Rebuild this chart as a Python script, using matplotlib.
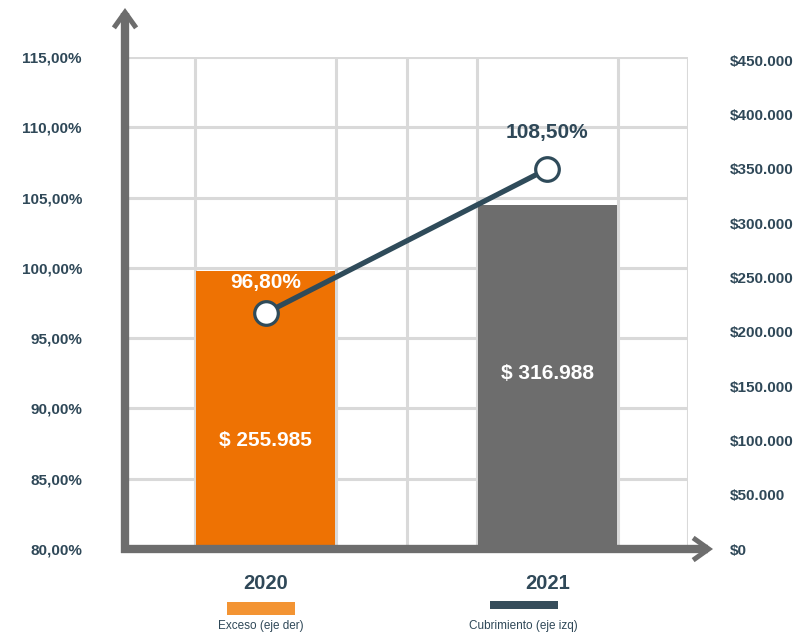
import matplotlib
matplotlib.use("Agg")
import matplotlib.pyplot as plt
from matplotlib.patches import Rectangle, FancyArrowPatch
from matplotlib.lines import Line2D
import numpy as np

plt.rcParams['font.family'] = ['Liberation Sans', 'DejaVu Sans']

# ---- data ----
years = ["2020", "2021"]
exceso = [255985, 316988]            # bars, right axis ($)
cubrimiento = [96.80, 108.50]        # line, left axis (%)
left_ticks = [80, 85, 90, 95, 100, 105, 110, 115]
right_ticks = [0, 50000, 100000, 150000, 200000, 250000, 300000, 350000, 400000, 450000]
legend_labels = ["Exceso (eje der)", "Cubrimiento (eje izq)"]

# ---- style ----
W, H = 807, 633
TXT = "#2f4858"
LINE = "#2f4b5a"
BAR_COLORS = ["#ee7203", "#6d6d6d"]
LEG_COLORS = ["#f39433", "#364d5b"]
AXIS = "#6d6d6d"
GRID = "#d9d9d9"

fig = plt.figure(figsize=(W / 100, H / 100), dpi=100)
L, R, B, T = 125, 688, 549, 57
ax = fig.add_axes([L / W, 1 - B / H, (R - L) / W, (B - T) / H])

def fx(px):
    return px / W

def fy(py):
    return 1 - py / H

# left axis (percent)
ax.set_xlim(0, 8)
ax.set_ylim(80, 115)
ax.set_yticks(left_ticks)
ax.set_yticklabels([f"{v:.2f}%".replace(".", ",") for v in left_ticks],
                   fontsize=11, fontweight="bold", color=TXT)
ax.tick_params(axis="y", length=0, pad=31)
ax.set_xticks([2, 6])
ax.set_xticklabels(years, fontsize=14.5, fontweight="bold", color=TXT)
ax.tick_params(axis="x", length=0, pad=18)
ax.set_xticks(np.arange(0, 9), minor=True)
ax.tick_params(axis="x", which="minor", length=0)
ax.grid(False)
ax.yaxis.grid(True, color=GRID, lw=2.2)
ax.xaxis.grid(True, which="minor", color=GRID, lw=2.2)
for s in ax.spines.values():
    s.set_visible(False)

# right axis (money) with bars
ax2 = ax.twinx()
ax2.set_ylim(0, 452800)
ax2.set_yticks(right_ticks)
ax2.set_yticklabels(["$0"] + [f"${v:,.0f}".replace(",", ".") for v in right_ticks[1:]],
                    fontsize=11, fontweight="bold", color=TXT)
ax2.tick_params(axis="y", length=0, pad=30)
for s in ax2.spines.values():
    s.set_visible(False)
xpos = [2, 6]
ax2.bar(xpos, exceso, width=1.98, color=BAR_COLORS, zorder=2)
label_frac = [0.39, 0.51]
for x, v, f in zip(xpos, exceso, label_frac):
    ax2.text(x, v * f, f"$ {v:,.0f}".replace(",", "."), ha="center", va="center",
             color="white", fontsize=15, fontweight="bold")

# line axis (hidden)
ax3 = ax.twinx()
ax3.set_ylim(77.63, 117.6)
ax3.axis("off")
ax3.plot(xpos, cubrimiento, color=LINE, lw=3.8, marker="o", markersize=17,
         markerfacecolor="white", markeredgecolor=LINE, markeredgewidth=2.3, zorder=3)
pt_colors = ["white", TXT]
pt_off = [22, 26]
for x, v, c, o in zip(xpos, cubrimiento, pt_colors, pt_off):
    ax3.annotate(f"{v:.2f}%".replace(".", ","), (x, v), xytext=(0, o),
                 textcoords="offset points", ha="center", va="center",
                 color=c, fontsize=15, fontweight="bold")

# axis arrows: thick shaft + open chevron head
def axis_arrow(p0, p1, shaft_end):
    fig.add_artist(Line2D([fx(p0[0]), fx(shaft_end[0])], [fy(p0[1]), fy(shaft_end[1])],
                          transform=fig.transFigure, color=AXIS, lw=6,
                          solid_capstyle="butt"))
    a = FancyArrowPatch((fx(p0[0]), fy(p0[1])), (fx(p1[0]), fy(p1[1])),
                        transform=fig.transFigure,
                        arrowstyle="->,head_length=0.7,head_width=0.5",
                        mutation_scale=16, color=AXIS, lw=3.6,
                        shrinkA=0, shrinkB=0, capstyle="butt", joinstyle="miter")
    fig.add_artist(a)

axis_arrow((125, 553), (125, 8), (125, 13))
axis_arrow((121, 549), (713, 549), (708, 549))

# legend beneath categories
leg_boxes = [(227, 602, 68, 13), (490, 601, 68, 8)]
leg_cx = [261, 523]
for (x0, y0, w, h), c, lab, cx in zip(leg_boxes, LEG_COLORS, legend_labels, leg_cx):
    fig.add_artist(Rectangle((fx(x0), fy(y0 + h)), w / W, h / H,
                             transform=fig.transFigure, color=c, lw=0))
    fig.text(fx(cx), fy(626), lab, ha="center", va="center", fontsize=8.5, color=TXT)

fig.savefig("out.png", dpi=100)
